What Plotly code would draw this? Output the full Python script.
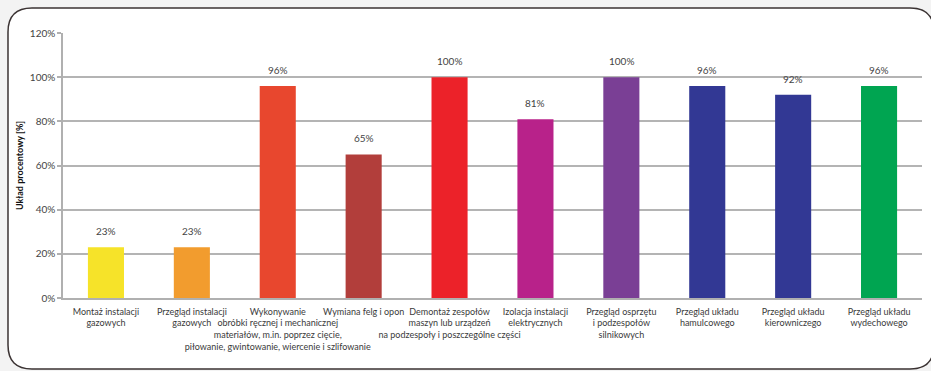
import plotly.graph_objects as go

categories = [
    "Montaż instalacji<br>gazowych",
    "Przegląd instalacji<br>gazowych",
    "Wykonywanie<br>obróbki ręcznej i mechanicznej<br>materiałów, m.in. poprzez cięcie,<br>piłowanie, gwintowanie, wiercenie i szlifowanie",
    "Wymiana felg i opon",
    "Demontaż zespołów<br>maszyn lub urządzeń<br>na podzespoły i poszczególne części",
    "Izolacja instalacji<br>elektrycznych",
    "Przegląd osprzętu<br>i podzespołów<br>silnikowych",
    "Przegląd układu<br>hamulcowego",
    "Przegląd układu<br>kierowniczego",
    "Przegląd układu<br>wydechowego",
]
values = [23, 23, 96, 65, 100, 81, 100, 96, 92, 96]
colors = ["#F6E329", "#F29C2E", "#E8472E", "#B23E3B", "#EC2229",
          "#B8228A", "#7A3F95", "#323894", "#323894", "#00A551"]
ytick_vals = [0, 20, 40, 60, 80, 100, 120]
ytick_text = ["0%", "20%", "40%", "60%", "80%", "100%", "120%"]
y_title = "Układ procentowy [%]"

W, H = 931, 371
ML, MR, MT, MB = 63, 9, 33, 73
PW, PH = W - ML - MR, H - MT - MB

def px(x):
    return (x - ML) / PW

def py(y):
    return (H - MB - y) / PH

# rounded frame (pixel coords converted to paper coords)
x0, y0, x1, y1, r = 8, 8, 934, 369, 24
pts = [
    ("M", [(x0 + r, y0)]),
    ("L", [(x1 - r, y0)]),
    ("Q", [(x1, y0), (x1, y0 + r)]),
    ("L", [(x1, y1 - r)]),
    ("Q", [(x1, y1), (x1 - r, y1)]),
    ("L", [(x0 + r, y1)]),
    ("Q", [(x0, y1), (x0, y1 - r)]),
    ("L", [(x0, y0 + r)]),
    ("Q", [(x0, y0), (x0 + r, y0)]),
]
path = " ".join(
    cmd + " " + " ".join(f"{px(a):.5f},{py(b):.5f}" for a, b in p) for cmd, p in pts
) + " Z"

fig = go.Figure()
fig.add_trace(go.Bar(
    x=list(range(len(categories))), y=values, marker=dict(color=colors, line=dict(width=0)),
    width=0.42, hoverinfo="skip",
))

for i, v in enumerate(values):
    fig.add_annotation(x=i, y=v, text=f"{v}%", showarrow=False, yshift=16,
                       font=dict(size=10, color="#444444", family="Lato"))

fig.add_shape(type="path", path=path, xref="paper", yref="paper",
              line=dict(color="#3b3333", width=1.5), fillcolor="white", layer="below")

fig.update_layout(
    width=W, height=H,
    margin=dict(l=ML, r=MR, t=MT, b=MB, pad=0, autoexpand=False),
    paper_bgcolor="#f3f3f3",
    plot_bgcolor="rgba(0,0,0,0)",
    showlegend=False,
    font=dict(family="Lato", size=9.5, color="#3a3a3a"),
)
fig.update_xaxes(
    tickvals=list(range(len(categories))), ticktext=categories,
    range=[-0.5, len(categories) - 0.5],
    showline=True, linecolor="#b0b0b0", linewidth=1.5,
    showgrid=False, ticks="", tickangle=0, automargin=False,
    ticklabelstandoff=4,
    tickfont=dict(size=9, color="#3a3a3a"),
    fixedrange=True,
)
fig.update_yaxes(
    range=[0, 120], tickvals=ytick_vals, ticktext=ytick_text,
    showline=True, linecolor="#b0b0b0", linewidth=1.5,
    showgrid=True, gridcolor="#b4b4b4", gridwidth=1.5,
    ticks="outside", ticklen=4, tickcolor="#b0b0b0", tickwidth=1.5,
    tickfont=dict(size=10, color="#444444"),
    zeroline=False, automargin=False,
    title=dict(text=y_title, font=dict(size=9, color="#111111", family="Lato", weight="bold"), standoff=5),
)

fig.write_html("out.html")
